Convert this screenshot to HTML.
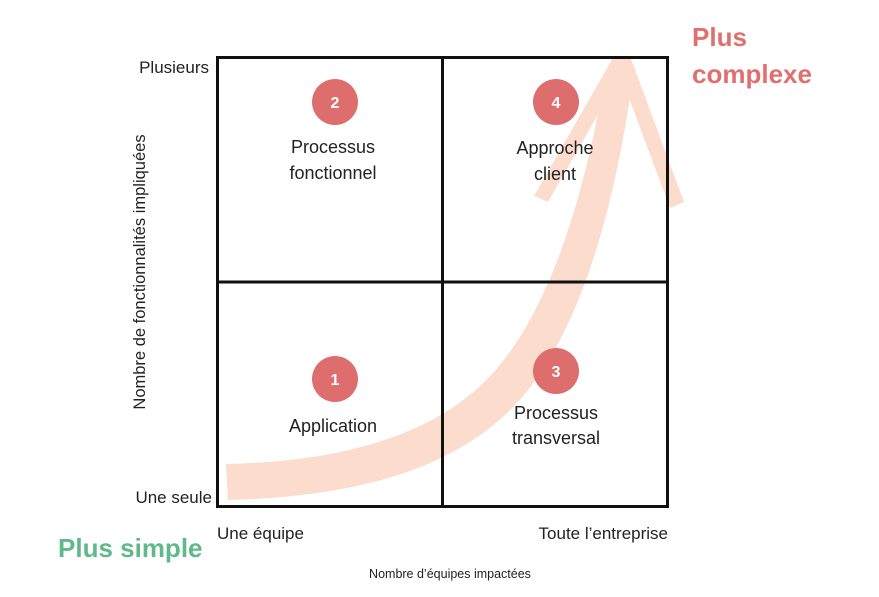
<!DOCTYPE html>
<html><head><meta charset="utf-8"><style>
body{margin:0;background:#fff;width:879px;height:597px;overflow:hidden}
svg{display:block}
text{font-family:"Liberation Sans",sans-serif}
</style></head><body>
<svg width="879" height="597" viewBox="0 0 879 597">
<!-- arrow -->
<g fill="#fcdccd">
<path d="M226,464 C330,462 420,440 478,388 C538,334 580,225 606,70 L634,70 C612,230 572,352 506,414 C440,476 340,497 228,500 Z"/>
<path d="M614,56 L630,58 L548,202 L534,196 Z"/>
<path d="M614,58 L630,56 L684,202 L670,208 Z"/>
</g>
<!-- grid -->
<g stroke="#111" stroke-width="3" fill="none">
<rect x="217.5" y="57.5" width="450" height="449"/>
<line x1="442.5" y1="57" x2="442.5" y2="507"/>
<line x1="217" y1="282" x2="667" y2="282"/>
</g>
<g fill="#de6d6d">
<circle cx="335" cy="102" r="23"/><circle cx="556" cy="102" r="23"/>
<circle cx="335" cy="379" r="23"/><circle cx="556" cy="371" r="23"/>
</g>
<g fill="#fff" font-weight="bold" font-size="16" text-anchor="middle">
<text x="335" y="108">2</text><text x="556" y="108">4</text>
<text x="335" y="385">1</text><text x="556" y="377">3</text>
</g>
<g fill="#222" font-size="18" text-anchor="middle">
<text x="333" y="153">Processus</text><text x="333" y="179">fonctionnel</text>
<text x="555" y="154">Approche</text><text x="555" y="180">client</text>
<text x="333" y="432">Application</text>
<text x="556" y="419">Processus</text><text x="556" y="444">transversal</text>
</g>
<g fill="#222" font-size="17">
<text x="209" y="73" text-anchor="end">Plusieurs</text>
<text x="212" y="503" text-anchor="end">Une seule</text>
<text x="217" y="539">Une équipe</text>
<text x="668" y="539" text-anchor="end">Toute l’entreprise</text>
</g>
<text x="450" y="578" font-size="12.5" fill="#222" text-anchor="middle">Nombre d’équipes impactées</text>
<text transform="translate(145,272) rotate(-90)" font-size="16.5" fill="#222" text-anchor="middle">Nombre de fonctionnalités impliquées</text>
<text x="58" y="557" font-size="26" font-weight="bold" fill="#5fb98b">Plus simple</text>
<text x="692" y="46" font-size="26" font-weight="bold" fill="#e07070">Plus</text>
<text x="692" y="83" font-size="26" font-weight="bold" fill="#e07070">complexe</text>
</svg>
</body></html>
